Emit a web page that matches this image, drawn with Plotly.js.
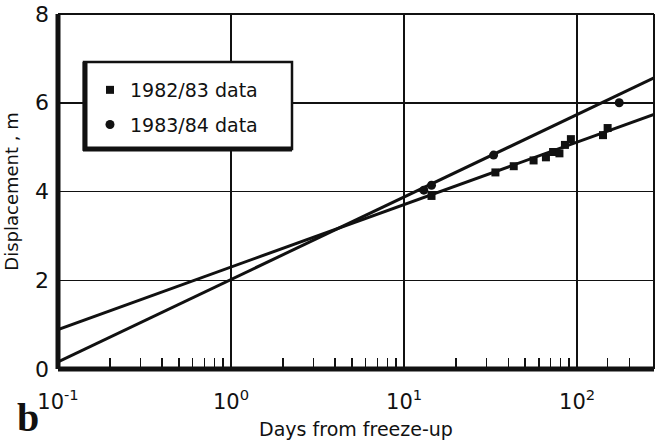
<!DOCTYPE html>
<html>
<head>
<meta charset="utf-8">
<script src="https://cdn.plot.ly/plotly-3.0.1.min.js"></script>
<style>html,body{margin:0;padding:0;background:#fff;}#chart{width:662px;height:442px;}</style>
</head>
<body>
<div id="chart"></div>
<script>
// Data
const data1982X = [14.4, 33.7, 43, 56, 66, 72.6, 79, 85, 92, 141, 150];
const data1982Y = [3.90, 4.43, 4.57, 4.70, 4.77, 4.89, 4.86, 5.05, 5.18, 5.27, 5.43];
const data1983X = [13, 14.4, 32.9, 175];
const data1983Y = [4.03, 4.14, 4.82, 6.0];
const fitX = [0.1, 278];
const fit1982Y = [0.89, 5.74];
const fit1983Y = [0.16, 6.56];
const xTickVals = [0.1, 1, 10, 100];
const xTickText = ['10<sup>-1</sup>', '10<sup>0</sup>', '10<sup>1</sup>', '10<sup>2</sup>'];
const xMinorVals = [0.2,0.3,0.4,0.5,0.6,0.7,0.8,0.9, 2,3,4,5,6,7,8,9, 20,30,40,50,60,70,80,90, 150,200];
const yTickVals = [0, 2, 4, 6, 8];
const legendNames = ['1982/83 data', '1983/84 data'];

const FONT = 'DejaVu Sans, Noto Sans, sans-serif';

const traces = [
  {x: fitX, y: fit1982Y, mode: 'lines', line: {color: '#111', width: 3}, showlegend: false, hoverinfo: 'skip'},
  {x: fitX, y: fit1983Y, mode: 'lines', line: {color: '#111', width: 3}, showlegend: false, hoverinfo: 'skip'},
  {x: data1982X, y: data1982Y, mode: 'markers', name: legendNames[0], legendgroup: 'a',
   marker: {symbol: 'square', size: 8, color: '#111'}},
  {x: data1983X, y: data1983Y, mode: 'markers', name: legendNames[1], legendgroup: 'b',
   marker: {symbol: 'circle', size: 9, color: '#111'}}
];

const L = 58, R = 8, T = 14, B = 73;
const W = 662, H = 442;
const pw = W - L - R, ph = H - T - B;
const px = v => (v - L) / pw;
const py = v => (H - B - v) / ph;

const layout = {
  width: W, height: H,
  margin: {l: L, r: R, t: T, b: B},
  paper_bgcolor: '#fff', plot_bgcolor: '#fff',
  font: {family: FONT, color: '#111'},
  showlegend: true,
  legend: {
    x: px(90), y: py(71), xanchor: 'left', yanchor: 'top',
    bgcolor: 'rgba(0,0,0,0)', borderwidth: 0,
    font: {family: FONT, size: 19, color: '#111'},
    traceorder: 'grouped', tracegroupgap: 7
  },
  xaxis: {
    type: 'log', range: [-1, Math.log10(278)],
    tickmode: 'array', tickvals: xTickVals, ticktext: xTickText,
    ticks: '', showline: false, zeroline: false,
    showgrid: true, gridcolor: '#111', gridwidth: 1.5,
    tickfont: {family: FONT, size: 21, color: '#111'},
    ticklabelstandoff: 18,
    minor: {tickmode: 'array', tickvals: xMinorVals, ticks: 'inside', ticklen: 11,
            tickwidth: 1.5, tickcolor: '#111', showgrid: false},
    title: {text: 'Days from freeze-up', font: {family: FONT, size: 19, color: '#111'}, standoff: 9}
  },
  yaxis: {
    range: [0, 8], tickmode: 'array', tickvals: yTickVals,
    ticks: '', showline: false, zeroline: false,
    showgrid: true, gridcolor: '#111', gridwidth: 1.5,
    tickfont: {family: FONT, size: 22, color: '#111'},
    ticklabelstandoff: 8,
    title: {text: 'Displacement , m', font: {family: FONT, size: 18, color: '#111'}, standoff: 11}
  },
  shapes: [
    // legend box
    {type: 'rect', xref: 'paper', yref: 'paper', x0: px(84), x1: px(292), y0: py(149), y1: py(62),
     line: {color: '#111', width: 2.5}, fillcolor: '#fff', layer: 'above'},
    {type: 'line', xref: 'paper', yref: 'paper', x0: px(85), x1: px(85), y0: py(151), y1: py(62),
     line: {color: '#111', width: 5}, layer: 'above'},
    {type: 'line', xref: 'paper', yref: 'paper', x0: px(83), x1: px(292), y0: py(149), y1: py(149),
     line: {color: '#111', width: 5}, layer: 'above'},
    // frame
    {type: 'line', xref: 'paper', yref: 'paper', x0: 0, x1: 0, y0: 0, y1: 1, line: {color: '#111', width: 5}, layer: 'above'},
    {type: 'line', xref: 'paper', yref: 'paper', x0: 0, x1: 1, y0: 0, y1: 0, line: {color: '#111', width: 5}, layer: 'above'},
    {type: 'line', xref: 'paper', yref: 'paper', x0: 0, x1: 1, y0: 1, y1: 1, line: {color: '#111', width: 2}, layer: 'above'},
    {type: 'line', xref: 'paper', yref: 'paper', x0: 1, x1: 1, y0: 0, y1: 1, line: {color: '#111', width: 2}, layer: 'above'}
  ],
  annotations: [
    {text: '<b>b</b>', xref: 'paper', yref: 'paper', x: px(28), y: py(417), xanchor: 'center', yanchor: 'middle',
     showarrow: false, font: {family: 'Liberation Serif, DejaVu Serif, serif', size: 40, color: '#111'}}
  ]
};

Plotly.newPlot('chart', traces, layout, {displayModeBar: false, staticPlot: true});
</script>
</body>
</html>
